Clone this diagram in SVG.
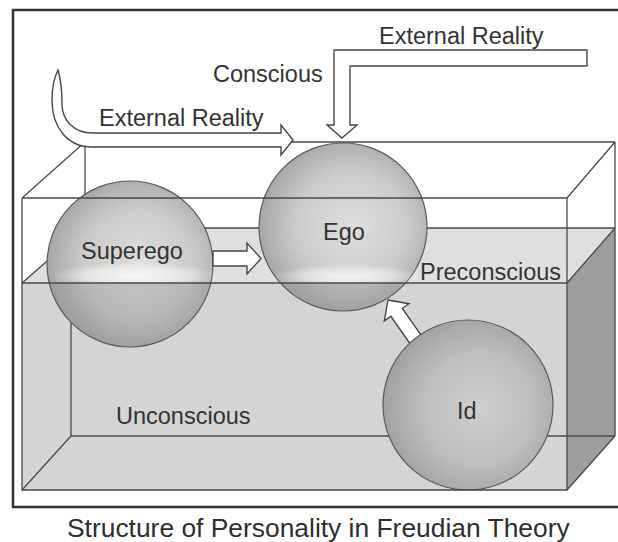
<svg xmlns="http://www.w3.org/2000/svg" width="618" height="542" viewBox="0 0 618 542">
<defs>
<style>
.edge{fill:none;stroke:#4a4a4a;stroke-width:1.3}
.lbl{font-family:"Liberation Sans",Arial,sans-serif;font-size:23.5px;fill:#333}
.title{font-family:"Liberation Sans",Arial,sans-serif;font-size:26.4px;fill:#2e2e2e}
.arrow{fill:#fff;stroke:#454545;stroke-width:1.4;stroke-linejoin:miter}
.sphere{stroke:#5a5a5a;stroke-width:1.2}
</style>
<radialGradient id="sph" cx="0.55" cy="0.5" r="0.55">
<stop offset="0" stop-color="#dedede"/>
<stop offset="0.6" stop-color="#cbcbcb"/>
<stop offset="1" stop-color="#a6a6a6"/>
</radialGradient>
<radialGradient id="sphId" cx="0.56" cy="0.52" r="0.55">
<stop offset="0" stop-color="#cfcfcf"/>
<stop offset="0.6" stop-color="#bdbdbd"/>
<stop offset="1" stop-color="#a2a2a2"/>
</radialGradient>
<radialGradient id="band" cx="0.5" cy="0.5" r="0.5">
<stop offset="0" stop-color="#fff" stop-opacity="0.75"/>
<stop offset="0.6" stop-color="#fff" stop-opacity="0.45"/>
<stop offset="1" stop-color="#fff" stop-opacity="0"/>
</radialGradient>
<clipPath id="above"><rect x="0" y="0" width="618" height="283"/></clipPath>
<clipPath id="below"><rect x="0" y="283" width="618" height="259"/></clipPath>
</defs>
<rect x="0" y="0" width="618" height="542" fill="#fff"/>
<rect x="13" y="10" width="612" height="497" fill="none" stroke="#333" stroke-width="2.5"/>

<g id="box-back">
<polygon points="22,283 85,228 615,228 615,436 567,490 22,490" fill="#d4d4d4"/>
<polygon points="22,283 85,228 615,228 567,283" fill="#dfdfdf"/>
<polygon points="567,283 615,228 615,436 567,490" fill="#9e9e9e"/>
<path class="edge" d="M85,142H615M85,142V228M615,142V436M22,198L85,142M567,198L615,142M85,228H615M22,283L85,228M567,283L615,228M71,228V436H615M22,490L71,436M567,490L615,436"/>
</g>

<g id="node-superego">
<circle class="sphere" cx="130" cy="264" r="83" fill="url(#sph)"/>
<ellipse cx="135" cy="276" rx="84" ry="14" fill="url(#band)" clip-path="url(#above)"/>
<circle cx="130" cy="264" r="83" fill="#707070" fill-opacity="0.22" clip-path="url(#below)"/>
<text class="lbl" x="81" y="258.5">Superego</text>
</g>

<g id="node-ego">
<circle class="sphere" cx="343" cy="227" r="84" fill="url(#sph)"/>
<ellipse cx="348" cy="277" rx="76" ry="13" fill="url(#band)" clip-path="url(#above)"/>
<circle cx="343" cy="227" r="84" fill="#707070" fill-opacity="0.22" clip-path="url(#below)"/>
<text class="lbl" x="323" y="239.5">Ego</text>
</g>

<g id="connectors">
<path class="arrow" d="M58,70C54,78 52,88 52,100C52,128 68,147 92,147L281,147L281,155L293,140L281,125L281,133L92,133C74,133 62,120 62,104C62,92 61,80 58,70Z"/>
<path class="arrow" d="M342,138L357,125L350,125L350,66L587,66L587,50L334,50L334,125L327,125Z"/>
<path class="arrow" d="M213,251L247,251L247,243L261,258.5L247,274L247,266L213,266Z"/>
<polygon class="arrow" points="388,300 408.9,303.7 402.3,308.3 428.1,345.2 416.7,353.2 390.9,316.3 384.3,320.9"/>
</g>

<g id="node-id">
<circle class="sphere" cx="468" cy="405" r="85" fill="url(#sphId)"/>
<text class="lbl" x="457" y="418.5">Id</text>
</g>

<g id="box-front">
<path class="edge" d="M22,198H567M22,283H567M22,198V490H567V198"/>
</g>

<g id="labels">
<text class="lbl" x="213" y="81.5">Conscious</text>
<text class="lbl" x="99" y="126">External Reality</text>
<text class="lbl" x="379" y="43.5">External Reality</text>
<text class="lbl" x="420" y="279.5">Preconscious</text>
<text class="lbl" x="116" y="423.5">Unconscious</text>
<text class="title" x="67" y="536.5">Structure of Personality in Freudian Theory</text>
</g>
</svg>
